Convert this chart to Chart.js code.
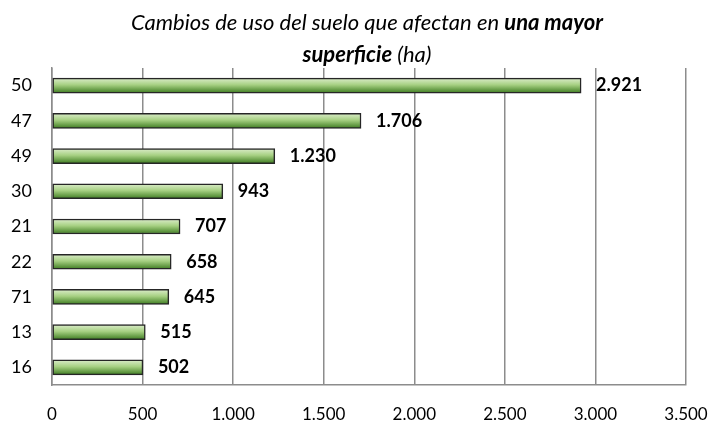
<!DOCTYPE html>
<html>
<head>
<meta charset="utf-8">
<script src="https://cdn.jsdelivr.net/npm/chart.js@4"></script>
<style>
  html, body { margin: 0; padding: 0; background: #fff; }
  #wrap { width: 711px; height: 421px; }
</style>
</head>
<body>
<div id="wrap"><canvas id="grafico"></canvas></div>
<script>
// datos
const categorias = ['50', '47', '49', '30', '21', '22', '71', '13', '16'];
const superficie = [2921, 1706, 1230, 943, 707, 658, 645, 515, 502];
const ticksX = [0, 500, 1000, 1500, 2000, 2500, 3000, 3500];

const fuente = 'Lato, "Open Sans", sans-serif';

function miles(v) {
    return String(v).replace(/\B(?=(\d{3})+(?!\d))/g, '.');
}

// titulo con partes en negrita
const tituloPlugin = {
    id: 'tituloMixto',
    afterDraw(chart) {
        const ctx = chart.ctx;
        const lineas = [
            [['Cambios de uso del suelo que afectan en ', false], ['una mayor', true]],
            [['superficie', true], [' (ha)', false]]
        ];
        const ys = [30, 62];
        ctx.save();
        ctx.fillStyle = '#000';
        ctx.textBaseline = 'alphabetic';
        ctx.textAlign = 'left';
        lineas.forEach((partes, i) => {
            let total = 0;
            partes.forEach(p => {
                ctx.font = 'italic ' + (p[1] ? 'bold ' : '') + '22px ' + fuente;
                total += ctx.measureText(p[0]).width;
            });
            let x = 367 - total / 2;
            partes.forEach(p => {
                ctx.font = 'italic ' + (p[1] ? 'bold ' : '') + '22px ' + fuente;
                ctx.fillText(p[0], x, ys[i]);
                x += ctx.measureText(p[0]).width;
            });
        });
        ctx.restore();
    }
};

// etiquetas de valor al final de cada barra
const etiquetasPlugin = {
    id: 'etiquetas',
    afterDatasetsDraw(chart) {
        const ctx = chart.ctx;
        const meta = chart.getDatasetMeta(0);
        ctx.save();
        ctx.font = 'bold 18px ' + fuente;
        ctx.fillStyle = '#000';
        ctx.textAlign = 'left';
        ctx.textBaseline = 'middle';
        meta.data.forEach((bar, i) => {
            ctx.fillText(miles(superficie[i]), bar.x + 15, bar.y);
        });
        ctx.restore();
    }
};

function degradado(context) {
    const chart = context.chart;
    const escala = chart.scales.y;
    if (!escala || context.dataIndex === undefined) return '#8cc06a';
    const y = escala.getPixelForValue(context.dataIndex);
    if (!isFinite(y)) return '#8cc06a';
    const g = chart.ctx.createLinearGradient(0, y - 7.5, 0, y + 7.5);
    g.addColorStop(0, '#dcedcb');
    g.addColorStop(0.45, '#a6d082');
    g.addColorStop(1, '#3d7b20');
    return g;
}

new Chart(document.getElementById('grafico'), {
    type: 'bar',
    data: {
        labels: categorias,
        datasets: [{
            data: superficie,
            backgroundColor: degradado,
            borderColor: '#262626',
            borderWidth: 1.5,
            borderSkipped: false,
            barThickness: 15
        }]
    },
    options: {
        indexAxis: 'y',
        responsive: true,
        maintainAspectRatio: false,
        animation: false,
        layout: { padding: { top: 68, right: 0, left: 0, bottom: 0 } },
        plugins: {
            legend: { display: false },
            title: { display: false },
            tooltip: { enabled: false }
        },
        scales: {
            x: {
                min: 0,
                max: 3500,
                afterBuildTicks(scale) {
                    scale.ticks = ticksX.map(v => ({ value: v }));
                },
                afterFit(scale) {
                    scale.height = 36;
                    // el margen derecho lo fijamos para que el area acabe en 686
                    scale.paddingRight = 25;
                    scale.paddingLeft = 0;
                },
                grid: { color: '#8c8c8c', lineWidth: 1.5, drawTicks: false },
                border: { display: true, color: '#8c8c8c', width: 1.5 },
                ticks: {
                    color: '#000',
                    padding: 19,
                    maxRotation: 0,
                    font: { family: fuente, size: 17 },
                    callback: v => miles(v)
                }
            },
            y: {
                afterFit(scale) { scale.width = 52; },
                grid: { display: false, drawTicks: false },
                border: { display: true, color: '#8c8c8c', width: 1.5 },
                ticks: {
                    color: '#000',
                    padding: 20,
                    font: { family: fuente, size: 18 }
                }
            }
        }
    },
    plugins: [tituloPlugin, etiquetasPlugin]
});
</script>
</body>
</html>
